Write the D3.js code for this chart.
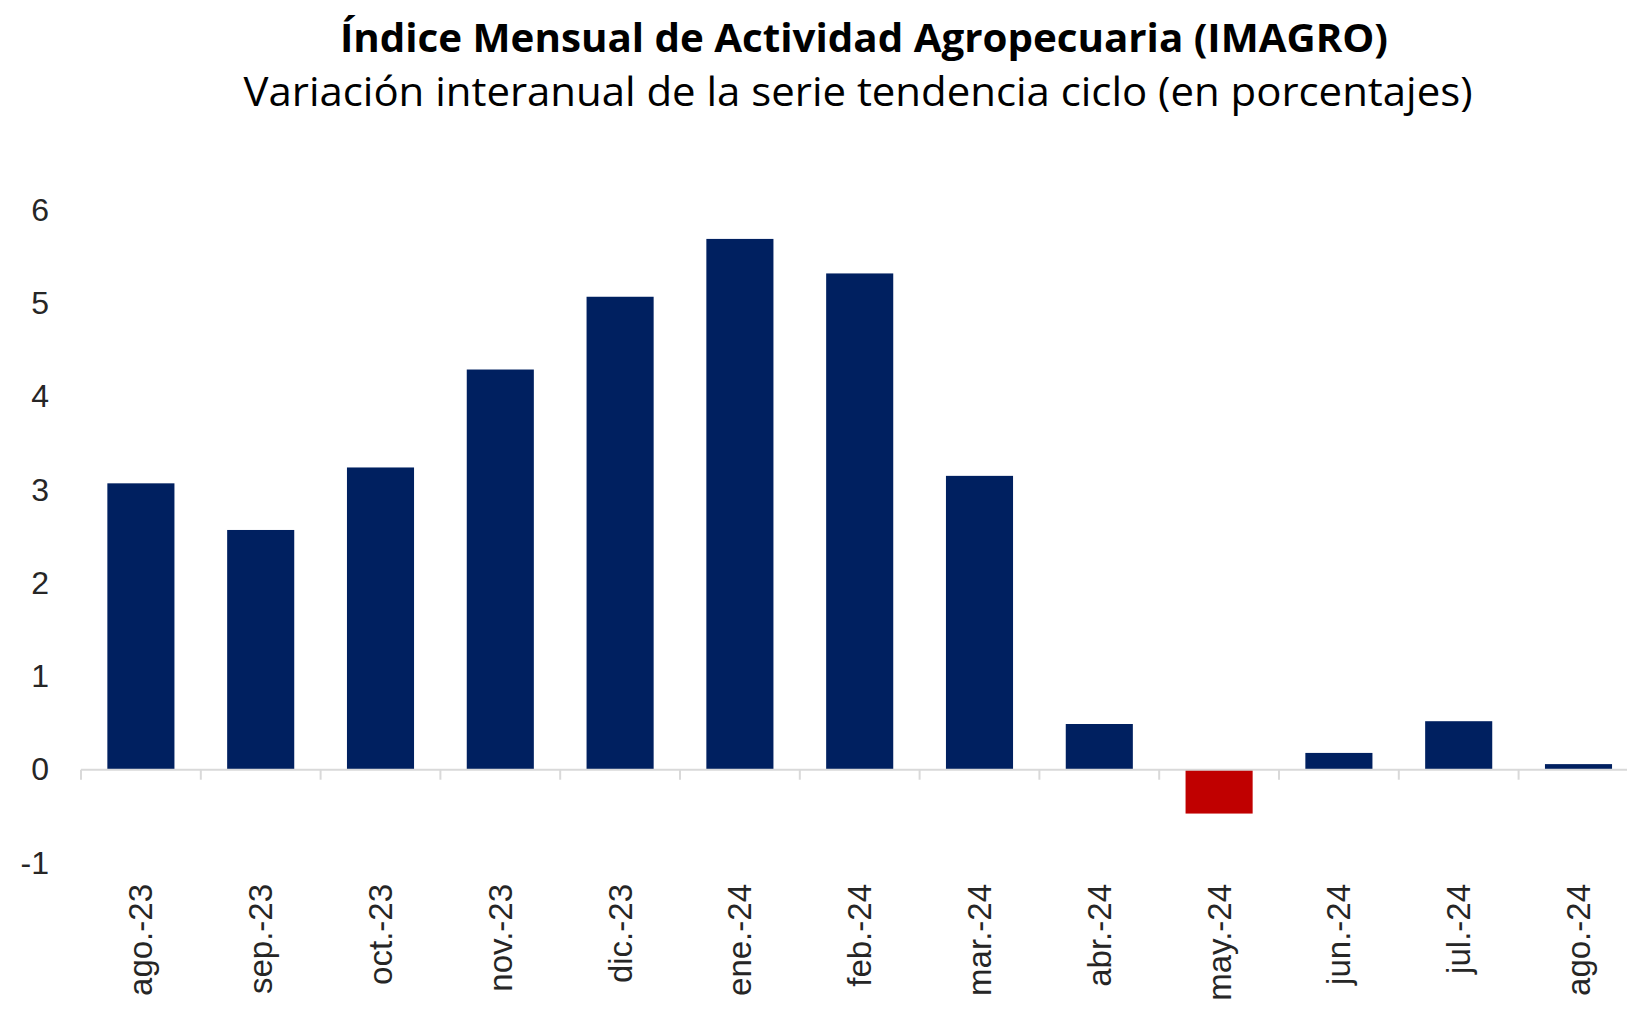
<!DOCTYPE html>
<html><head><meta charset="utf-8">
<script src="https://cdn.jsdelivr.net/npm/d3@7"></script>
<style>html,body{margin:0;padding:0;background:#fff;overflow:hidden}</style>
</head><body>
<svg id="chart" width="1627" height="1009"></svg>
<script>
const categories = ["ago.-23","sep.-23","oct.-23","nov.-23","dic.-23","ene.-24","feb.-24","mar.-24","abr.-24","may.-24","jun.-24","jul.-24","ago.-24"];
const values = [3.07, 2.57, 3.24, 4.29, 5.07, 5.69, 5.32, 3.15, 0.49, -0.47, 0.18, 0.52, 0.06];
const yTicks = [-1, 0, 1, 2, 3, 4, 5, 6];
const title = "Índice Mensual de Actividad Agropecuaria (IMAGRO)";
const subtitle = "Variación interanual de la serie tendencia ciclo (en porcentajes)";

const svg = d3.select("#chart");
const x0 = 81, step = 119.8;
const x = d3.scaleBand().domain(categories).range([x0, x0 + step * categories.length]).paddingInner(0.44).paddingOuter(0.22);
const y = d3.scaleLinear().domain([-1, 6]).range([863, 210]);

// titles
const t1 = svg.append("text").attr("x", 864).attr("y", 52).attr("text-anchor", "middle")
  .style("font-family", "Open Sans").style("font-weight", "bold").style("font-size", "40px").attr("fill", "#000").text(title);
t1.attr("textLength", 1048).attr("lengthAdjust", "spacingAndGlyphs");
const t2 = svg.append("text").attr("x", 858).attr("y", 106).attr("text-anchor", "middle")
  .style("font-family", "Open Sans").style("font-size", "40px").attr("fill", "#000").text(subtitle);
t2.attr("textLength", 1229).attr("lengthAdjust", "spacingAndGlyphs");

// y axis labels
const yAxis = d3.axisLeft(y).tickValues(yTicks).tickSize(0).tickPadding(0).tickFormat(d => String(d));
const gy = svg.append("g").attr("transform", "translate(49,0)").call(yAxis);
gy.select(".domain").remove();
gy.selectAll("text").style("font-family", "Liberation Sans").style("font-size", "32px").attr("fill", "#262626").attr("dy", "0.32em");

// bars
svg.append("g").selectAll("rect").data(values).join("rect")
  .attr("x", (d, i) => x(categories[i]))
  .attr("width", x.bandwidth())
  .attr("y", d => Math.min(y(d), y(0)))
  .attr("height", d => Math.abs(y(d) - y(0)))
  .attr("fill", d => d < 0 ? "#C00000" : "#002060");

// zero line and ticks
const gx = svg.append("g");
gx.append("line").attr("x1", x0).attr("x2", x0 + step * categories.length).attr("y1", y(0)).attr("y2", y(0))
  .attr("stroke", "#d9d9d9").attr("stroke-width", 2);
gx.selectAll("line.tick").data(categories).join("line").attr("class", "tick")
  .attr("x1", d => x(d) - (x.step() - x.bandwidth()) / 2).attr("x2", d => x(d) - (x.step() - x.bandwidth()) / 2)
  .attr("y1", y(0)).attr("y2", y(0) + 10).attr("stroke", "#d9d9d9").attr("stroke-width", 2);

// x labels
gx.selectAll("text").data(categories).join("text")
  .attr("transform", d => `translate(${x(d) + x.bandwidth() / 2},884) rotate(-90)`)
  .attr("text-anchor", "end").attr("dy", "0.35em")
  .style("font-family", "Liberation Sans").style("font-size", "33px").attr("fill", "#262626")
  .text(d => d);
</script>
</body></html>
